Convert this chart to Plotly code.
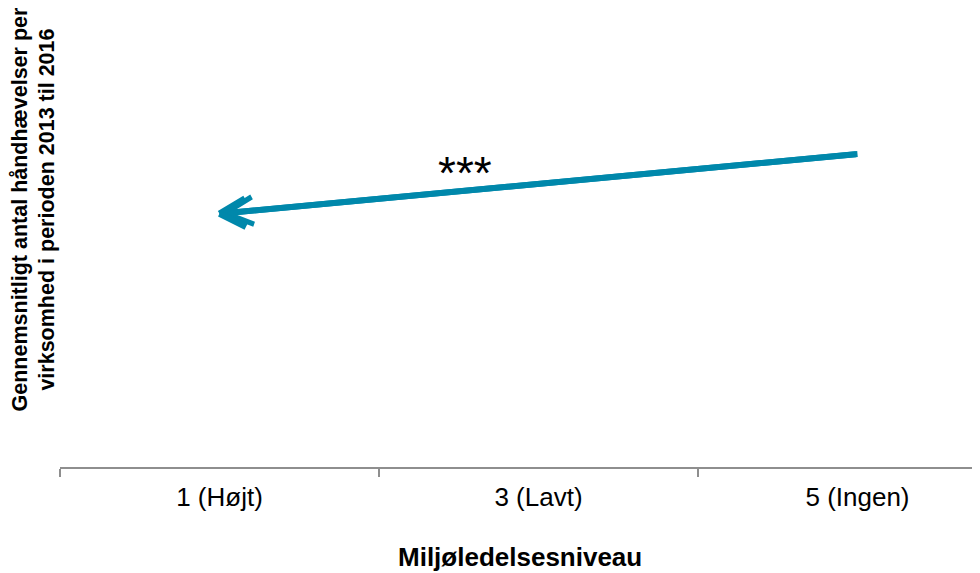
import plotly.graph_objects as go

categories = ["1 (Højt)", "3 (Lavt)", "5 (Ingen)"]
# Trend from "5 (Ingen)" to "1 (Højt)" (arrow direction)
arrow_from_cat = "5 (Ingen)"
arrow_to_cat = "1 (Højt)"
arrow_from_val = 2.1
arrow_to_val = 1.7
significance = "***"
x_title = "Miljøledelsesniveau"
y_title = "Gennemsnitligt antal håndhævelser per<br>virksomhed i perioden 2013 til 2016"

COLOR = "#0088AB"
AXIS = "#8E8E8E"
FONT = "Arial, Liberation Sans, sans-serif"

i_from = categories.index(arrow_from_cat)
i_to = categories.index(arrow_to_cat)

fig = go.Figure()
fig.add_trace(go.Scatter(
    x=[arrow_from_cat, arrow_to_cat], y=[arrow_from_val, arrow_to_val],
    mode="lines", line=dict(color=COLOR, width=6), hoverinfo="skip", showlegend=False,
))
# pointed tip
fig.add_annotation(
    x=i_to, y=arrow_to_val, ax=i_from, ay=arrow_from_val,
    xref="x", yref="y", axref="x", ayref="y",
    showarrow=True, arrowhead=5, arrowsize=0.9, arrowwidth=6, arrowcolor=COLOR, text="",
)
# chevron arms (pixel offsets from the tip)
for dx, dy in [(27, -16), (28, 14)]:
    fig.add_annotation(
        x=i_to, y=arrow_to_val, ax=dx, ay=dy, xref="x", yref="y",
        showarrow=True, arrowhead=0, arrowwidth=6.5, arrowcolor=COLOR, text="",
    )
fig.add_annotation(
    x=0.77, y=1.785, xref="x", yref="y", text=significance, showarrow=False,
    font=dict(family=FONT, size=46, color="black"), yanchor="bottom", xanchor="center",
)
fig.add_annotation(
    x=-0.0288, y=0.575, xref="paper", yref="paper", xanchor="center", yanchor="middle",
    text="<b>" + y_title + "</b>", textangle=-90, showarrow=False,
    font=dict(family=FONT, size=21.5, color="black"),
)
fig.add_annotation(
    x=0.5, y=-0.2013, xref="paper", yref="paper", xanchor="center", yanchor="middle",
    text="<b>" + x_title + "</b>", showarrow=False,
    font=dict(family=FONT, size=26, color="black"),
)

fig.update_layout(
    width=972, height=565,
    margin=dict(l=52, r=0, t=12, b=106),
    paper_bgcolor="white", plot_bgcolor="white",
    font=dict(family=FONT, color="black"),
    xaxis=dict(
        type="category", categoryorder="array", categoryarray=categories,
        range=[-0.5, 2.384], tickson="boundaries",
        showgrid=False, zeroline=False, showline=True, linecolor=AXIS, linewidth=2,
        ticks="outside", ticklen=8, tickwidth=2, tickcolor=AXIS,
        ticklabelstandoff=6,
        tickfont=dict(size=26, family=FONT, color="black"),
    ),
    yaxis=dict(range=[0, 3], visible=False),
)

fig.write_html("out.html")
